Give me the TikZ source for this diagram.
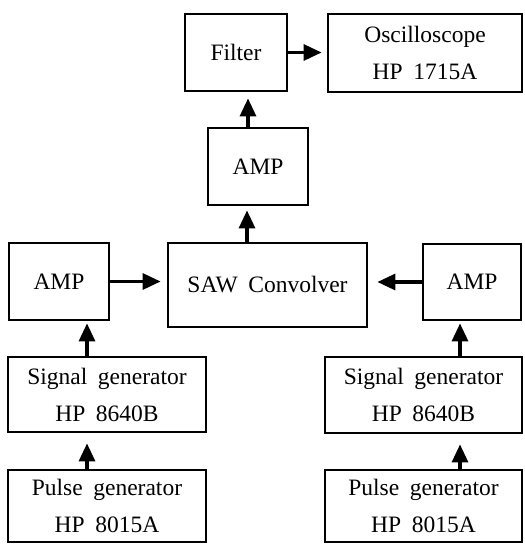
\documentclass[tikz,border=0pt]{standalone}
\usepackage{fontspec}
\setmainfont{Liberation Serif}
\usetikzlibrary{arrows.meta,calc}
\newcommand{\gapsp}{\hspace{0.45em}}
\begin{document}
\begin{tikzpicture}[x=1pt,y=-1pt,
  box/.style={draw, line width=2.8pt, inner sep=0pt, align=center, font=\fontsize{23.5}{37}\selectfont},
  arr/.style={line width=3.2pt, -{Triangle[length=18pt,width=16pt]}}]
\useasboundingbox (0,0) rectangle (524,545);
\node[box, minimum width=102pt, minimum height=77pt] (filter) at (236,52.5) {Filter};
\node[box, minimum width=194pt, minimum height=78pt] (osc) at (425,53) {Oscilloscope\\HP\gapsp 1715A};
\node[box, minimum width=100pt, minimum height=77pt] (ampT) at (258,166.5) {AMP};
\node[box, minimum width=199pt, minimum height=84pt] (saw) at (267.5,285) {SAW\gapsp Convolver};
\node[box, minimum width=100pt, minimum height=77pt] (ampL) at (59,281.5) {AMP};
\node[box, minimum width=98pt, minimum height=76pt] (ampR) at (472,282) {AMP};
\node[box, minimum width=198pt, minimum height=75pt] (sigL) at (107,394.5) {Signal\gapsp generator\\HP\gapsp 8640B};
\node[box, minimum width=198pt, minimum height=72pt] (pulL) at (107,506) {Pulse\gapsp generator\\HP\gapsp 8015A};
\node[box, minimum width=197pt, minimum height=76pt] (sigR) at (423.5,395) {Signal\gapsp generator\\HP\gapsp 8640B};
\node[box, minimum width=197pt, minimum height=72pt] (pulR) at (423.5,506) {Pulse\gapsp generator\\HP\gapsp 8015A};
% connectors
\draw[arr, shorten >=5pt] (filter.east) -- (filter.east -| osc.west);
\draw[arr, shorten >=6pt] ([xshift=-10pt]ampT.north) -- ([xshift=-10pt]ampT.north |- filter.south);
\draw[arr, shorten >=4pt] ([xshift=-20.5pt]saw.north) -- ([xshift=-20.5pt]saw.north |- ampT.south);
\draw[arr, shorten >=6pt] (ampL.east) -- (ampL.east -| saw.west);
\draw[arr, shorten >=9pt] (ampR.west) -- (ampR.west -| saw.east);
\draw[arr, shorten >=2pt] ([xshift=-20pt]sigL.north) -- ([xshift=-20pt]sigL.north |- ampL.south);
\draw[arr, shorten >=10pt] ([xshift=-20pt]pulL.north) -- ([xshift=-20pt]pulL.north |- sigL.south);
\draw[arr, shorten >=2pt] ([xshift=36.5pt]sigR.north) -- ([xshift=36.5pt]sigR.north |- ampR.south);
\draw[arr, shorten >=10pt] ([xshift=36.5pt]pulR.north) -- ([xshift=36.5pt]pulR.north |- sigR.south);
\end{tikzpicture}
\end{document}
